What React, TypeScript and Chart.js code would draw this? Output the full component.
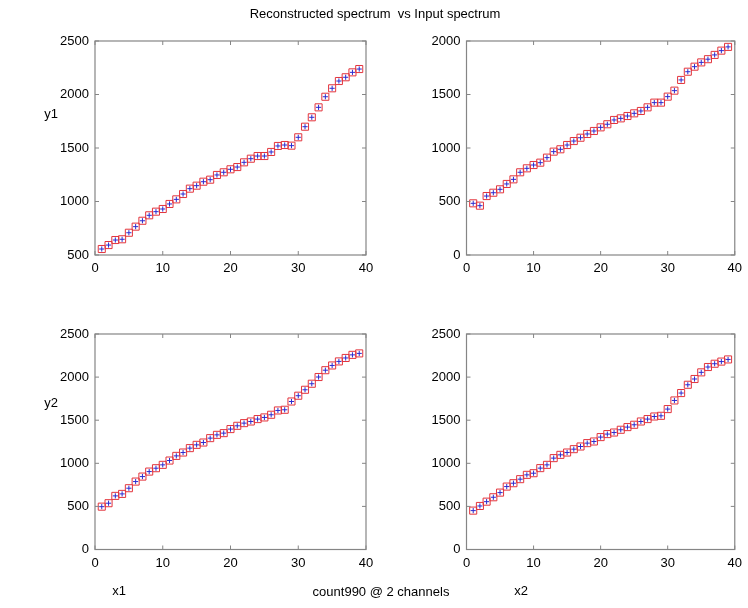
import React, { useEffect, useRef } from "react";
import { Chart, registerables } from "chart.js";

Chart.register(...registerables);

// ---- data ----
const channelIndex = [
  1, 2, 3, 4, 5, 6, 7, 8, 9, 10, 11, 12, 13, 14, 15, 16, 17, 18, 19, 20,
  21, 22, 23, 24, 25, 26, 27, 28, 29, 30, 31, 32, 33, 34, 35, 36, 37, 38, 39,
];

const y1x1Values = [
  556, 593, 640, 647, 708, 765, 820, 871, 905, 930, 977, 1020, 1070, 1120, 1148,
  1185, 1204, 1248, 1273, 1301, 1322, 1366, 1400, 1425, 1425, 1463, 1519, 1528,
  1522, 1600, 1699, 1787, 1880, 1979, 2058, 2126, 2161, 2207, 2238,
];

const y1x2Values = [
  483, 461, 551, 582, 614, 664, 707, 773, 810, 841, 863, 910, 966, 988, 1028,
  1065, 1096, 1131, 1159, 1193, 1222, 1262, 1277, 1299, 1324, 1346, 1380, 1424,
  1424, 1480, 1536, 1636, 1713, 1760, 1800, 1830, 1870, 1910, 1945,
];

const y2x1Values = [
  497, 537, 622, 645, 711, 788, 846, 904, 943, 982, 1032, 1086, 1125, 1176, 1214,
  1241, 1292, 1330, 1350, 1397, 1435, 1466, 1485, 1513, 1532, 1563, 1613, 1621,
  1717, 1784, 1853, 1923, 2001, 2080, 2135, 2182, 2222, 2258, 2275,
];

const y2x2Values = [
  451, 505, 555, 606, 660, 730, 769, 816, 866, 885, 944, 982, 1060, 1098, 1125,
  1164, 1195, 1234, 1253, 1304, 1339, 1357, 1389, 1420, 1447, 1485, 1513, 1543,
  1551, 1629, 1729, 1815, 1911, 1978, 2055, 2117, 2155, 2180, 2205,
];

const xRange = [0, 40];
const xStep = 10;
const yStep = 500;

const titleText = "Reconstructed spectrum  vs Input spectrum";
const footerText = "count990 @ 2 channels";
const rowLabels = ["y1", "y2"];
const colLabels = ["x1", "x2"];

// ---- layout ----
const W = 748;
const H = 608;
const YW = 45;
const XH = 25;
const FONT = '"Liberation Sans", Arial, Helvetica, sans-serif';

const framePlugin = {
  id: "matlabFrame",
  afterDraw(chart: any) {
    const { ctx, chartArea: a, scales } = chart;
    ctx.save();
    ctx.strokeStyle = "#858585";
    ctx.lineWidth = 1.2;
    ctx.strokeRect(a.left, a.top, a.right - a.left, a.bottom - a.top);
    const tl = 4;
    ctx.lineWidth = 1;
    const xs = scales.x;
    xs.ticks.forEach((_t: any, i: number) => {
      const p = xs.getPixelForTick(i);
      ctx.beginPath();
      ctx.moveTo(p, a.bottom);
      ctx.lineTo(p, a.bottom - tl);
      ctx.moveTo(p, a.top);
      ctx.lineTo(p, a.top + tl);
      ctx.stroke();
    });
    const ys = scales.y;
    ys.ticks.forEach((_t: any, i: number) => {
      const p = ys.getPixelForTick(i);
      ctx.beginPath();
      ctx.moveTo(a.left, p);
      ctx.lineTo(a.left + tl, p);
      ctx.moveTo(a.right, p);
      ctx.lineTo(a.right - tl, p);
      ctx.stroke();
    });
    ctx.restore();
  },
};

type PanelProps = {
  values: number[];
  yMin: number;
  yMax: number;
  area: [number, number, number, number];
};

function Panel({ values, yMin, yMax, area }: PanelProps) {
  const ref = useRef<HTMLCanvasElement>(null);
  useEffect(() => {
    const [l, t, r, b] = area;
    const pts = channelIndex.map((x, i) => ({ x, y: values[i] }));
    const tickFont = { family: FONT, size: 13 };
    const plain = (v: any) => String(v);
    const chart = new Chart(ref.current as HTMLCanvasElement, {
      type: "scatter",
      data: {
        datasets: [
          {
            label: "Reconstructed",
            data: pts,
            pointStyle: "rect",
            pointRadius: 5,
            borderColor: "#e3343c",
            backgroundColor: "rgba(0,0,0,0)",
            borderWidth: 1,
            showLine: false,
          },
          {
            label: "Input",
            data: pts,
            pointStyle: "cross",
            pointRadius: 2.6,
            borderColor: "#2a2ad0",
            backgroundColor: "#2a2ad0",
            borderWidth: 1,
            showLine: false,
          },
        ],
      },
      options: {
        responsive: false,
        animation: false,
        events: [],
        layout: {
          padding: { left: l - YW, top: t, right: W - r, bottom: H - b - XH },
        },
        plugins: {
          legend: { display: false },
          tooltip: { enabled: false },
          title: { display: false },
        },
        scales: {
          x: {
            type: "linear",
            min: xRange[0],
            max: xRange[1],
            grid: { display: false, drawTicks: false },
            border: { display: false },
            ticks: { stepSize: xStep, padding: 6, color: "#000", font: tickFont, maxRotation: 0, callback: plain },
            afterFit: (s: any) => {
              s.height = XH;
            },
          },
          y: {
            type: "linear",
            min: yMin,
            max: yMax,
            grid: { display: false, drawTicks: false },
            border: { display: false },
            ticks: { stepSize: yStep, padding: 6, color: "#000", font: tickFont, callback: plain },
            afterFit: (s: any) => {
              s.width = YW;
            },
          },
        },
      } as any,
      plugins: [framePlugin],
    });
    return () => chart.destroy();
  }, []);
  return (
    <canvas
      ref={ref}
      width={W}
      height={H}
      style={{ position: "absolute", left: 0, top: 0, width: W, height: H }}
    />
  );
}

function Label({ text, x, y }: { text: string; x: number; y: number }) {
  return (
    <div
      style={{
        position: "absolute",
        left: x,
        top: y,
        transform: "translate(-50%, -50%)",
        font: `13px ${FONT}`,
        color: "#000",
        whiteSpace: "pre",
      }}
    >
      {text}
    </div>
  );
}

export default function App() {
  return (
    <div
      style={{
        position: "fixed",
        left: 0,
        top: 0,
        width: W,
        height: H,
        background: "#fff",
        overflow: "hidden",
      }}
    >
      <Panel values={y1x1Values} yMin={500} yMax={2500} area={[95, 41, 366, 255]} />
      <Panel values={y1x2Values} yMin={0} yMax={2000} area={[466.5, 41, 737.5, 255]} />
      <Panel values={y2x1Values} yMin={0} yMax={2500} area={[95, 334, 366, 549.5]} />
      <Panel values={y2x2Values} yMin={0} yMax={2500} area={[466.5, 334, 737.5, 549.5]} />
      <Label text={titleText} x={375} y={13} />
      <Label text={rowLabels[0]} x={51} y={113} />
      <Label text={rowLabels[1]} x={51} y={402} />
      <Label text={colLabels[0]} x={119} y={590} />
      <Label text={colLabels[1]} x={521} y={590} />
      <Label text={footerText} x={381} y={591} />
    </div>
  );
}
